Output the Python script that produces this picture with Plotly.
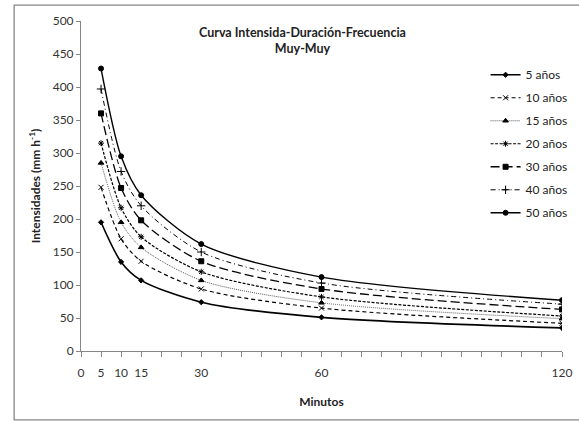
import plotly.graph_objects as go

# Duration (minutes) and rainfall intensity (mm/h) for each return period
minutos = [5, 10, 15, 30, 60, 120]
i_5 = [195, 135, 107, 74, 51, 35]
i_10 = [248, 170, 136, 94, 65, 42]
i_15 = [285, 195, 157, 107, 73, 49]
i_20 = [315, 217, 173, 120, 82, 53]
i_30 = [360, 247, 198, 136, 94, 63]
i_40 = [397, 272, 220, 150, 103, 71]
i_50 = [428, 295, 236, 162, 112, 77]

x_ticks = list(range(0, 121, 5))
x_labels = {0: "0", 5: "5", 10: "10", 15: "15", 30: "30", 60: "60", 120: "120"}
y_ticks = list(range(0, 501, 50))

series = [
    ("5 años", i_5, "solid", "diamond", 4, "#000000", 1.6),
    ("10 años", i_10, "4px,3px", "x-thin", 5, "#000000", 1.2),
    ("15 años", i_15, "1px,1px", "triangle-up", 5, "#555555", 1.0),
    ("20 años", i_20, "3px,1.5px", "asterisk-open", 5, "#000000", 1.2),
    ("30 años", i_30, "9px,4px", "square", 5, "#000000", 1.3),
    ("40 años", i_40, "5px,3px,1px,3px", "cross-thin-open", 6, "#000000", 1.0),
    ("50 años", i_50, "solid", "circle", 5, "#000000", 1.4),
]

FONT = "Lato, Open Sans, sans-serif"

fig = go.Figure()
for name, vals, dash, sym, size, col, w in series:
    fig.add_trace(go.Scatter(
        x=minutos, y=vals, name=name, mode="lines+markers",
        line=dict(color=col, width=w, dash=dash, shape="spline", smoothing=0.8),
        marker=dict(symbol=sym, size=size, color="#000000",
                    line=dict(color="#000000", width=1)),
        legendgroup=name,
    ))

fig.update_layout(
    width=579, height=421,
    margin=dict(l=81, r=17, t=21, b=70, autoexpand=False),
    paper_bgcolor="white", plot_bgcolor="white",
    font=dict(family=FONT, size=12, color="#333333"),
    showlegend=True,
    legend=dict(x=1.022, y=0.881, xanchor="right", yanchor="top",
                font=dict(size=12, color="#222222"),
                tracegroupgap=4, itemwidth=30,
                bgcolor="rgba(0,0,0,0)"),
    xaxis=dict(range=[0, 120], tickmode="array", tickvals=x_ticks,
               ticktext=[x_labels.get(v, "") for v in x_ticks],
               ticks="outside", ticklen=5, tickcolor="#868686",
               showline=True, linecolor="#868686", linewidth=1,
               showgrid=False, zeroline=False, ticklabelstandoff=6,
               tickfont=dict(size=12, color="#333333"),
               title=dict(text="<b>Minutos</b>", font=dict(size=12, color="#222222"),
                          standoff=18)),
    yaxis=dict(range=[0, 500], tickmode="array", tickvals=y_ticks,
               ticks="outside", ticklen=4, tickcolor="#868686",
               showline=True, linecolor="#868686", linewidth=1,
               showgrid=False, zeroline=False,
               tickfont=dict(size=12, color="#333333"),
               title=dict(text="<b>Intensidades (mm h<sup>-1</sup>)</b>",
                          font=dict(size=12, color="#222222"), standoff=9)),
    shapes=[dict(type="rect", xref="paper", yref="paper",
                 x0=-0.139, x1=1.2, y0=-0.209, y1=1.048,
                 line=dict(color="#868686", width=1.3), layer="below")],
    annotations=[dict(text="<b>Curva Intensida-Duración-Frecuencia</b><br><b>Muy-Muy</b>",
                      xref="paper", yref="paper", x=0.46, y=0.995, xanchor="center",
                      yanchor="top", showarrow=False,
                      font=dict(size=12.5, color="#222222"))],
)

fig.write_html("out.html")
